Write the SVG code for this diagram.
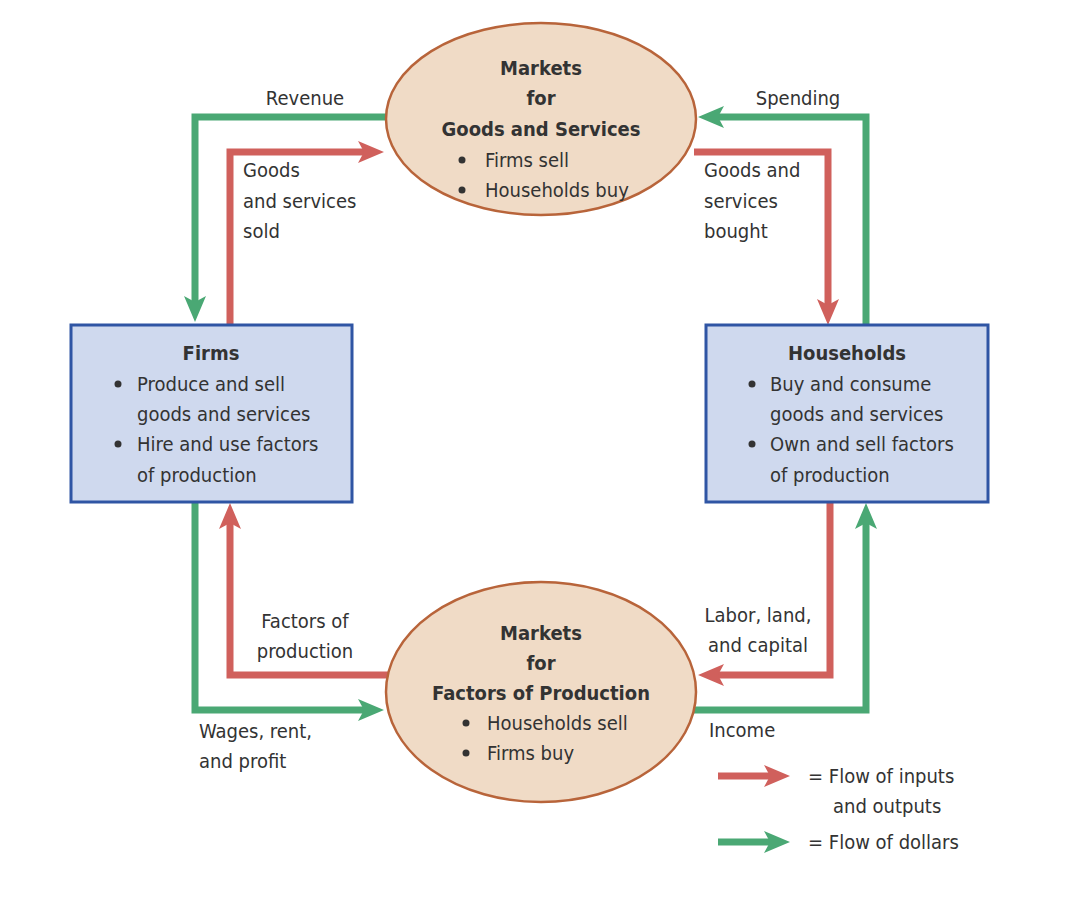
<svg xmlns="http://www.w3.org/2000/svg" width="1068" height="911" viewBox="0 0 1068 911">
<style>
text{font-family:"Liberation Sans Narrow","DejaVu Sans Condensed","Liberation Sans",sans-serif;font-size:20px;fill:#333;}
.b{font-weight:bold;}
.c{text-anchor:middle;}
.g{fill:none;stroke:#4aa874;stroke-width:7;}
.r{fill:none;stroke:#d0605c;stroke-width:7;}
.ell{fill:#f0dbc6;stroke:#b8643a;stroke-width:2.5;}
.box{fill:#cfd9ee;stroke:#2f55a4;stroke-width:3;}
</style>
<defs>
<marker id="ag" markerUnits="userSpaceOnUse" markerWidth="28" markerHeight="24" refX="14" refY="11" orient="auto"><path d="M0,0 L26,11 L0,22 L6,11 z" fill="#4aa874"/></marker>
<marker id="ar" markerUnits="userSpaceOnUse" markerWidth="28" markerHeight="24" refX="14" refY="11" orient="auto"><path d="M0,0 L26,11 L0,22 L6,11 z" fill="#d0605c"/></marker>
</defs>
<rect width="1068" height="911" fill="#fff"/>
<g id="connectors">
<path class="g" d="M388,117 H195 V310" marker-end="url(#ag)"/>
<path class="r" d="M230,325 V152 H372" marker-end="url(#ar)"/>
<path class="g" d="M866,325 V117 H710" marker-end="url(#ag)"/>
<path class="r" d="M694,152 H828 V313" marker-end="url(#ar)"/>
<path class="r" d="M388,675 H230 V515" marker-end="url(#ar)"/>
<path class="g" d="M195,502 V710 H372" marker-end="url(#ag)"/>
<path class="r" d="M830,502 V675 H710" marker-end="url(#ar)"/>
<path class="g" d="M694,710 H866 V515" marker-end="url(#ag)"/>
<path class="r" d="M718,776 H778" marker-end="url(#ar)"/>
<path class="g" d="M718,842 H778" marker-end="url(#ag)"/>
</g>
<g id="goods-market">
<ellipse class="ell" cx="541" cy="119" rx="155" ry="96"/>
<text class="b c" x="541" y="75">Markets</text>
<text class="b c" x="541" y="105">for</text>
<text class="b c" x="541" y="136">Goods and Services</text>
<circle cx="462" cy="160" r="3.5" fill="#333"/><text x="485" y="167">Firms sell</text>
<circle cx="462" cy="190" r="3.5" fill="#333"/><text x="485" y="197">Households buy</text>
</g>
<g id="factor-market">
<ellipse class="ell" cx="541" cy="692" rx="155" ry="110"/>
<text class="b c" x="541" y="640">Markets</text>
<text class="b c" x="541" y="670">for</text>
<text class="b c" x="541" y="700">Factors of Production</text>
<circle cx="466" cy="723" r="3.5" fill="#333"/><text x="487" y="730">Households sell</text>
<circle cx="466" cy="753" r="3.5" fill="#333"/><text x="487" y="760">Firms buy</text>
</g>
<g id="firms">
<rect class="box" x="71" y="325" width="281" height="177"/>
<text class="b c" x="211" y="360">Firms</text>
<circle cx="118" cy="384" r="3.5" fill="#333"/><text x="137" y="391">Produce and sell</text>
<text x="137" y="421">goods and services</text>
<circle cx="118" cy="444" r="3.5" fill="#333"/><text x="137" y="451">Hire and use factors</text>
<text x="137" y="482">of production</text>
</g>
<g id="households">
<rect class="box" x="706" y="325" width="282" height="177"/>
<text class="b c" x="847" y="360">Households</text>
<circle cx="752" cy="384" r="3.5" fill="#333"/><text x="770" y="391">Buy and consume</text>
<text x="770" y="421">goods and services</text>
<circle cx="752" cy="444" r="3.5" fill="#333"/><text x="770" y="451">Own and sell factors</text>
<text x="770" y="482">of production</text>
</g>
<g id="labels">
<text class="c" x="305" y="105">Revenue</text>
<text class="c" x="798" y="105">Spending</text>
<text x="243" y="177">Goods</text>
<text x="243" y="208">and services</text>
<text x="243" y="238">sold</text>
<text x="704" y="177">Goods and</text>
<text x="704" y="208">services</text>
<text x="704" y="238">bought</text>
<text class="c" x="305" y="628">Factors of</text>
<text class="c" x="305" y="658">production</text>
<text class="c" x="758" y="622">Labor, land,</text>
<text class="c" x="758" y="652">and capital</text>
<text x="199" y="738">Wages, rent,</text>
<text x="199" y="768">and profit</text>
<text x="709" y="737">Income</text>
<text x="808" y="783">= Flow of inputs</text>
<text x="833" y="813">and outputs</text>
<text x="808" y="849">= Flow of dollars</text>
</g>
</svg>
